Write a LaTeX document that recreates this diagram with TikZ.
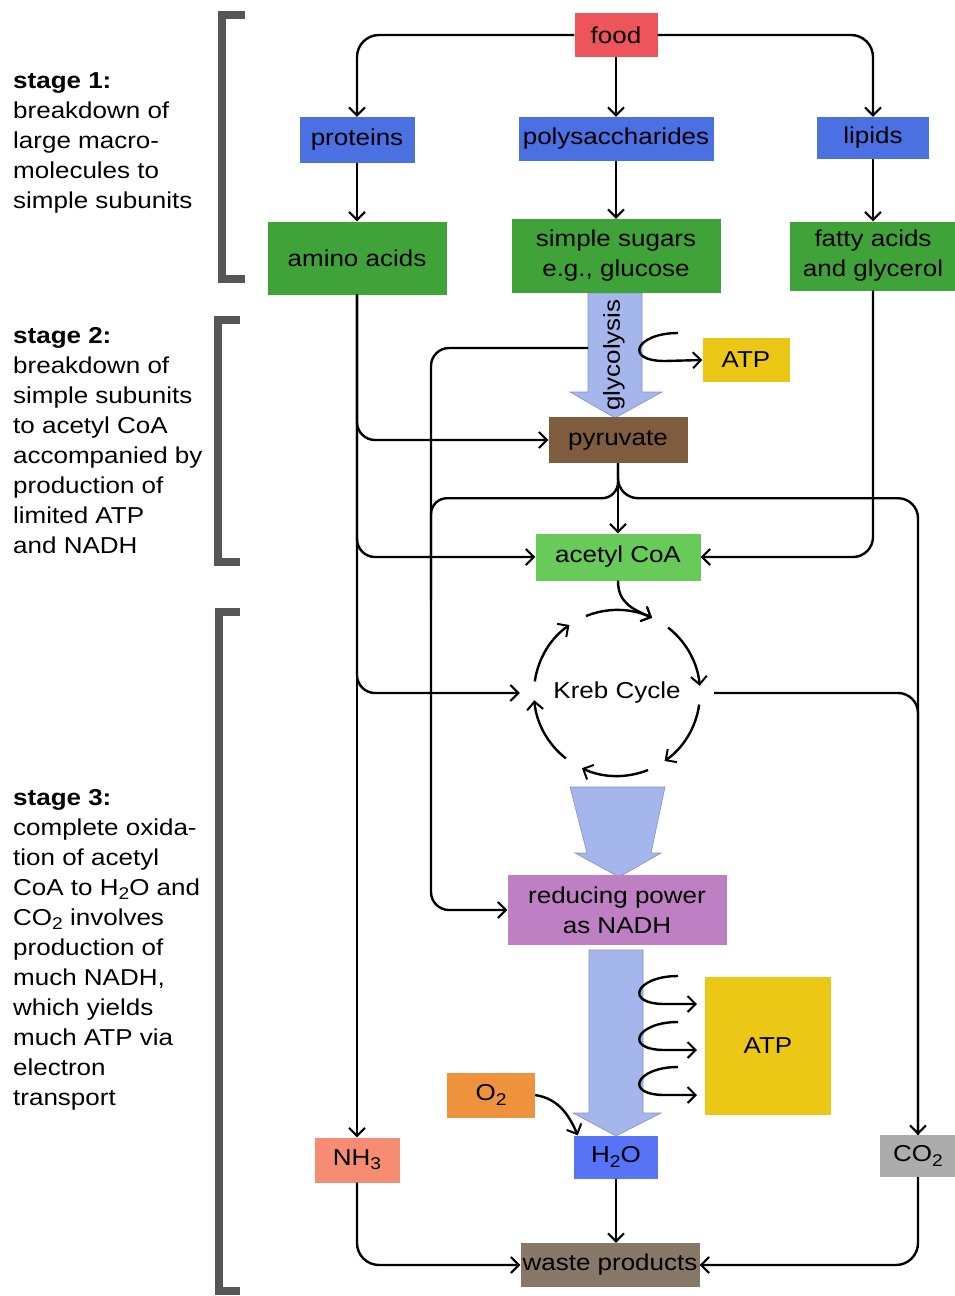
\documentclass[tikz,border=0pt]{standalone}
\usepackage{fontspec}
\setmainfont{Liberation Sans}[FakeStretch=1.13]
\usepackage{tikz}
\usetikzlibrary{arrows.meta}

\definecolor{FoodRed}{RGB}{238,84,92}
\definecolor{MacroBlue}{RGB}{74,112,226}
\definecolor{UnitGreen}{RGB}{64,163,58}
\definecolor{CoAGreen}{RGB}{104,202,88}
\definecolor{PyrBrown}{RGB}{128,92,62}
\definecolor{ATPYellow}{RGB}{236,200,22}
\definecolor{NADHPurple}{RGB}{190,128,194}
\definecolor{OxyOrange}{RGB}{238,146,62}
\definecolor{AmmSalmon}{RGB}{246,140,114}
\definecolor{WaterBlue}{RGB}{86,116,245}
\definecolor{DioxGray}{RGB}{172,172,172}
\definecolor{WasteBrown}{RGB}{136,120,104}
\definecolor{FlowBlue}{RGB}{164,182,236}
\definecolor{BracketGray}{RGB}{86,86,86}

\newcommand{\lowsub}[1]{\raisebox{-0.35ex}{\fontsize{17}{17}\selectfont #1}}

\begin{document}
\begin{tikzpicture}[x=1pt, y=1pt,
	box/.style={rectangle, inner sep=0pt, align=center, font=\fontsize{23}{30}\selectfont},
	stagetext/.style={anchor=north west, align=left, inner sep=0pt, font=\fontsize{23}{30}\selectfont},
	link/.style={line width=2.4pt, -{Straight Barb[length=8pt,width=16pt,line width=2pt]}},
	wire/.style={line width=2.4pt},
	flow/.style={fill=FlowBlue, draw=FlowBlue!80!black, line width=0.6pt},
	bracket/.style={line width=8pt, draw=BracketGray}]
			\useasboundingbox (0,0) rectangle (955,-1296);
% stage brackets and texts
\draw[bracket] (245,-15) -| (222,-279) -- (245,-279);
\draw[bracket] (240,-320) -| (218,-562) -- (240,-562);
\draw[bracket] (240,-612) -| (219,-1291) -- (240,-1291);
\node[stagetext] (stageone) at (13,-72) {\textbf{stage 1:}\\breakdown of\\large macro-\\molecules to\\simple subunits};
\node[stagetext] (stagetwo) at (13,-327) {\textbf{stage 2:}\\breakdown of\\simple subunits\\to acetyl CoA\\accompanied by\\production of\\limited ATP\\and NADH};
\node[stagetext] (stagethree) at (13,-789) {\textbf{stage 3:}\\complete oxida-\\tion of acetyl\\CoA to H\lowsub{2}O and\\CO\lowsub{2} involves\\production of\\much NADH,\\which yields\\much ATP via\\electron\\transport};
% big flow arrows
\draw[flow] (588,-293) -- (642,-293) -- (642,-392) -- (662,-392) -- (615,-418) -- (570,-392) -- (588,-392) -- cycle;
\draw[flow] (570,-787) -- (665,-787) -- (651,-853) -- (661,-853) -- (619,-877) -- (575,-853) -- (587,-853) -- cycle;
\draw[flow] (589,-950) -- (643,-950) -- (643,-1113) -- (661,-1113) -- (616,-1136) -- (573,-1113) -- (589,-1113) -- cycle;
% boxes
\node[box, fill=FoodRed, minimum width=83, minimum height=44] (food) at (616,-35) {food};
\node[box, fill=MacroBlue, minimum width=115, minimum height=46] (proteins) at (357,-140) {proteins};
\node[box, fill=MacroBlue, minimum width=195, minimum height=44] (polysacch) at (616,-139) {polysaccharides};
\node[box, fill=MacroBlue, minimum width=112, minimum height=42] (lipids) at (873,-138) {lipids};
\node[box, fill=UnitGreen, minimum width=179, minimum height=73] (amino) at (357,-258) {amino acids};
\node[box, fill=UnitGreen, minimum width=209, minimum height=74] (sugars) at (616,-256) {simple sugars\\e.g., glucose};
\node[box, fill=UnitGreen, minimum width=166, minimum height=69] (fatty) at (873,-256) {fatty acids\\and glycerol};
\node[box, rotate=90] (glyco) at (614,-355) {glycolysis};
\node[box, fill=ATPYellow, minimum width=87, minimum height=44] (atpA) at (746,-360) {ATP};
\node[box, fill=PyrBrown, minimum width=139, minimum height=46] (pyruvate) at (618,-440) {pyruvate};
\node[box, fill=CoAGreen, minimum width=165, minimum height=47] (acetyl) at (618,-557) {acetyl CoA};
\node[box, circle, minimum size=194] (kreb) at (617,-693) {Kreb Cycle};
\node[box, fill=NADHPurple, minimum width=219, minimum height=70] (nadh) at (617,-910) {reducing power\\as NADH};
\node[box, fill=ATPYellow, minimum width=126, minimum height=138] (atpB) at (768,-1046) {ATP};
\node[box, fill=OxyOrange, minimum width=88, minimum height=45] (otwo) at (491,-1095) {O\lowsub{2}};
\node[box, fill=WaterBlue, minimum width=84, minimum height=43] (water) at (616,-1157) {H\lowsub{2}O};
\node[box, fill=AmmSalmon, minimum width=85, minimum height=45] (ammonia) at (357,-1160) {NH\lowsub{3}};
\node[box, fill=DioxGray, minimum width=76, minimum height=42] (carbondiox) at (918,-1156) {CO\lowsub{2}};
\node[box, fill=WasteBrown, minimum width=179, minimum height=44] (waste) at (610,-1265) {waste products};
% helper points
\coordinate (glyleft) at (588,-348);
\coordinate (bendL) at (431,-600);
\coordinate (hookA) at (678,-333);
\coordinate (hookB) at (678,-976);
\coordinate (hookC) at (678,-1022);
\coordinate (hookD) at (678,-1067);
\path (kreb.center) ++(65:83pt) coordinate (krebin);
% stage 1 connectors
\draw[link, rounded corners=22pt] (food.west) -| (proteins.north);
\draw[link] (food.south) -- (polysacch.north);
\draw[link, rounded corners=22pt] (food.east) -| (lipids.north);
\draw[link] (proteins.south) -- (amino.north);
\draw[link] (polysacch.south) -- (sugars.north);
\draw[link] (lipids.south) -- (fatty.north);
% stage 2 connectors
\draw[link] (amino.south) -- (ammonia.north);
\draw[link, rounded corners=18pt] (amino.south) |- (pyruvate.west);
\draw[link, rounded corners=18pt] (amino.south) |- (acetyl.west);
\draw[link, rounded corners=18pt] (amino.south) |- (kreb.west);
\draw[link, rounded corners=20pt] (fatty.south) |- (acetyl.east);
\draw[link, rounded corners=18pt] (glyleft) -| (bendL) |- (nadh.west);
\draw[link] (hookA) .. controls +(-42,0) and +(-42,0) .. ++(-13,-28) -- (atpA.west);
\draw[link] (pyruvate.south) -- (acetyl.north);
\draw[wire, rounded corners=16pt] (pyruvate.south) -- ++(0,-35) -| (bendL);
\draw[link, rounded corners=20pt] (pyruvate.south) -- ++(0,-35) -| (carbondiox.north);
% kreb cycle
\draw[link] (acetyl.south) .. controls +(0,-22) and +(-20,9) .. (krebin);
\draw[link] (kreb.center) ++(112:83pt) arc[start angle=112, end angle=65, radius=83pt];
\draw[link] (kreb.center) ++(52:83pt) arc[start angle=52, end angle=5, radius=83pt];
\draw[link] (kreb.center) ++(-8:83pt) arc[start angle=-8, end angle=-55, radius=83pt];
\draw[link] (kreb.center) ++(-68:83pt) arc[start angle=-68, end angle=-115, radius=83pt];
\draw[link] (kreb.center) ++(-128:83pt) arc[start angle=-128, end angle=-175, radius=83pt];
\draw[link] (kreb.center) ++(172:83pt) arc[start angle=172, end angle=125, radius=83pt];
\draw[wire, rounded corners=20pt] (kreb.east) -| (carbondiox.north);
% stage 3 connectors
\draw[link] (hookB) .. controls +(-42,0) and +(-42,0) .. ++(-13,-28) -- ++(32,0);
\draw[link] (hookC) .. controls +(-42,0) and +(-42,0) .. ++(-13,-28) -- ++(32,0);
\draw[link] (hookD) .. controls +(-42,0) and +(-42,0) .. ++(-13,-28) -- ++(32,0);
\draw[link] (otwo.east) .. controls +(25,-4) and +(-8,18) .. ([xshift=4pt]water.north west);
\draw[link, rounded corners=22pt] (ammonia.south) |- (waste.west);
\draw[link] (water.south) -- (water.south |- waste.north);
\draw[link, rounded corners=22pt] (carbondiox.south) |- (waste.east);
		\end{tikzpicture}
\end{document}
